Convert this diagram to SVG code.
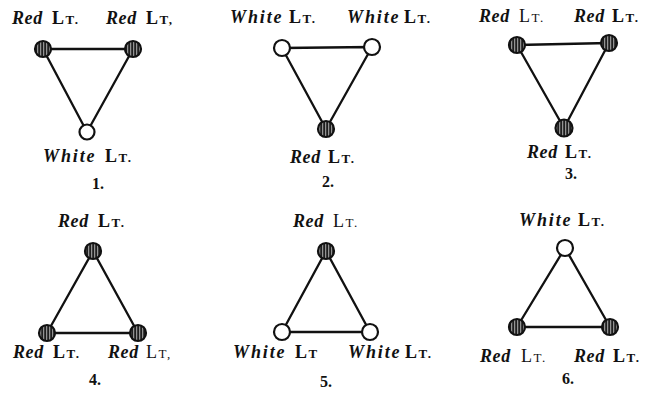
<svg xmlns="http://www.w3.org/2000/svg" width="657" height="399" viewBox="0 0 657 399">
<defs>
<pattern id="hatch" patternUnits="userSpaceOnUse" width="3" height="3">
<rect width="3" height="3" fill="#1e1e1e"/>
<rect x="1.2" width="1" height="3" fill="#b0b0b0"/>
</pattern>
</defs>
<style>
.red{fill:url(#hatch);stroke:#111;stroke-width:2.2}
.white{fill:#fff;stroke:#111;stroke-width:2.2}
.edge{stroke:#111;stroke-width:2.3;fill:none;stroke-linejoin:round}
.lab{font-family:"Liberation Serif",serif;font-size:18px;fill:#111}
.r{font-style:italic;font-weight:bold;letter-spacing:0.6px}
.w{font-style:italic;font-weight:bold;letter-spacing:1.9px}
.l{font-weight:bold;letter-spacing:1.5px}
.sc{font-size:13px}
.num{font-family:"Liberation Serif",serif;font-size:16px;font-weight:bold;fill:#111}
</style>
<rect width="657" height="399" fill="#fff"/>
<g id="connectors">
<path class="edge" d="M43 49 L133 49 L87 132 Z"/>
<path class="edge" d="M282 48 L372 47 L326 129 Z"/>
<path class="edge" d="M517 45 L609 43 L564 128 Z"/>
<path class="edge" d="M93 251 L138 333 L47 333 Z"/>
<path class="edge" d="M326 251 L370 332 L282 332 Z"/>
<path class="edge" d="M565 248 L610 327 L517 327 Z"/>
</g>
<g id="fig1">
<g id="n1a"><circle class="red" cx="43" cy="49" r="8"/><text class="lab" x="12" y="24"><tspan class="r">Red</tspan><tspan class="l" x="52">L<tspan class="sc">T.</tspan></tspan></text></g>
<g id="n1b"><circle class="red" cx="133" cy="49" r="8"/><text class="lab" x="106" y="24"><tspan class="r">Red</tspan><tspan class="l" x="146">L<tspan class="sc">T,</tspan></tspan></text></g>
<g id="n1c"><circle class="white" cx="87" cy="132" r="7.5"/><text class="lab" x="43" y="162"><tspan class="w">White</tspan><tspan class="l" x="105">L<tspan class="sc">T.</tspan></tspan></text></g>
<text class="num" x="92" y="189">1.</text>
</g>
<g id="fig2">
<g id="n2a"><circle class="white" cx="282" cy="48" r="8"/><text class="lab" x="230" y="23"><tspan class="w">White</tspan><tspan class="l" x="289">L<tspan class="sc">T.</tspan></tspan></text></g>
<g id="n2b"><circle class="white" cx="372" cy="47" r="8"/><text class="lab" x="347" y="23"><tspan class="w">White</tspan><tspan class="l" x="404">L<tspan class="sc">T.</tspan></tspan></text></g>
<g id="n2c"><circle class="red" cx="326" cy="129" r="8"/><text class="lab" x="290" y="163"><tspan class="r">Red</tspan><tspan class="l" x="328">L<tspan class="sc">T.</tspan></tspan></text></g>
<text class="num" x="322" y="187">2.</text>
</g>
<g id="fig3">
<g id="n3a"><circle class="red" cx="517" cy="45" r="8"/><text class="lab" x="479" y="22"><tspan class="r">Red</tspan><tspan x="519" style="letter-spacing:1.5px">L<tspan class="sc">T.</tspan></tspan></text></g>
<g id="n3b"><circle class="red" cx="609" cy="43" r="8"/><text class="lab" x="574" y="22"><tspan class="r">Red</tspan><tspan class="l" x="612">L<tspan class="sc">T.</tspan></tspan></text></g>
<g id="n3c"><circle class="red" cx="564" cy="128" r="8.5"/><text class="lab" x="527" y="158"><tspan class="r">Red</tspan><tspan class="l" x="565">L<tspan class="sc">T.</tspan></tspan></text></g>
<text class="num" x="565" y="179">3.</text>
</g>
<g id="fig4">
<g id="n4a"><circle class="red" cx="93" cy="251" r="8"/><text class="lab" x="58" y="227"><tspan class="r">Red</tspan><tspan class="l" x="98">L<tspan class="sc">T.</tspan></tspan></text></g>
<g id="n4b"><circle class="red" cx="47" cy="333" r="8"/><text class="lab" x="13" y="358"><tspan class="r">Red</tspan><tspan class="l" x="53">L<tspan class="sc">T.</tspan></tspan></text></g>
<g id="n4c"><circle class="red" cx="138" cy="333" r="8"/><text class="lab" x="108" y="358"><tspan class="r">Red</tspan><tspan x="146" style="letter-spacing:1.5px">L<tspan class="sc">T,</tspan></tspan></text></g>
<text class="num" x="89" y="385">4.</text>
</g>
<g id="fig5">
<g id="n5a"><circle class="red" cx="326" cy="251" r="8"/><text class="lab" x="293" y="227"><tspan class="r">Red</tspan><tspan x="333" style="letter-spacing:1.5px">L<tspan class="sc">T.</tspan></tspan></text></g>
<g id="n5b"><circle class="white" cx="282" cy="332" r="8"/><text class="lab" x="233" y="358"><tspan class="w">White</tspan><tspan class="l" x="295">L<tspan class="sc">T</tspan></tspan></text></g>
<g id="n5c"><circle class="white" cx="370" cy="332" r="8"/><text class="lab" x="348" y="358"><tspan class="w">White</tspan><tspan class="l" x="405">L<tspan class="sc">T.</tspan></tspan></text></g>
<text class="num" x="320" y="387">5.</text>
</g>
<g id="fig6">
<g id="n6a"><circle class="white" cx="565" cy="248" r="8"/><text class="lab" x="519" y="226"><tspan class="w">White</tspan><tspan class="l" x="578">L<tspan class="sc">T.</tspan></tspan></text></g>
<g id="n6b"><circle class="red" cx="517" cy="327" r="8"/><text class="lab" x="480" y="362"><tspan class="r">Red</tspan><tspan x="521" style="letter-spacing:1.5px">L<tspan class="sc">T.</tspan></tspan></text></g>
<g id="n6c"><circle class="red" cx="610" cy="327" r="8"/><text class="lab" x="574" y="362"><tspan class="r">Red</tspan><tspan class="l" x="613">L<tspan class="sc">T.</tspan></tspan></text></g>
<text class="num" x="562" y="384">6.</text>
</g>
</svg>
